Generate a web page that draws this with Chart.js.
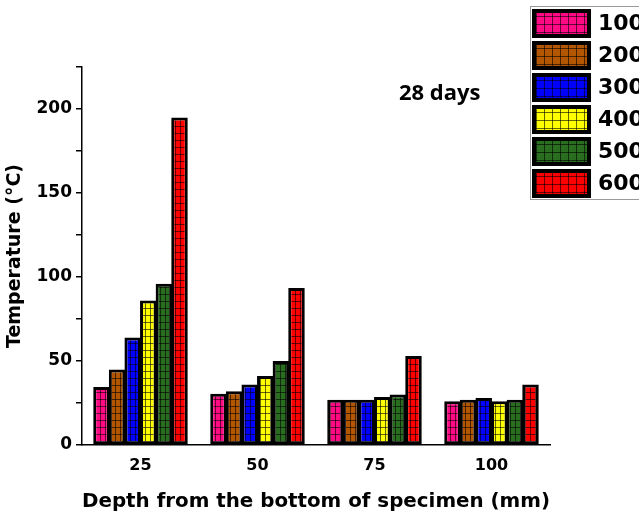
<!DOCTYPE html>
<html>
<head>
<meta charset="utf-8">
<script src="https://cdn.jsdelivr.net/npm/chart.js@4.4.1/dist/chart.umd.min.js"></script>
<style>
    html, body { margin: 0; padding: 0; background: #fff; }
    #wrap { width: 639px; height: 522px; position: relative; }
</style>
</head>
<body>
<div id="wrap"><canvas id="temp-chart"></canvas></div>
<script>
/* ── Data ── */
const depths = ['25', '50', '75', '100'];
const seriesNames = ['100', '200', '300', '400', '500', '600'];
const temp100 = [34.5, 30.5, 27, 26];
const temp200 = [45, 32, 27, 27];
const temp300 = [64, 36, 27, 28];
const temp400 = [86, 41, 28.5, 26];
const temp500 = [96, 50, 30, 27];
const temp600 = [195, 93.5, 53, 36];
const seriesValues = [temp100, temp200, temp300, temp400, temp500, temp600];
const seriesColors = ['#ff0a84', '#b35600', '#0000ff', '#ffff00', '#286e1e', '#ff0000'];

const FONT = '"DejaVu Sans", Verdana, sans-serif';

/* ── Grid-hatched fill pattern ── */
const makePattern = (color, cw, ch) => {
    const c = document.createElement('canvas');
    c.width = cw;
    c.height = ch;
    const g = c.getContext('2d');
    g.fillStyle = color;
    g.fillRect(0, 0, cw, ch);
    g.fillStyle = 'rgba(0,0,0,0.6)';
    g.fillRect(0, 0, cw, 1);
    g.fillRect(0, 0, 1, ch);
    return g.createPattern(c, 'repeat');
};

/* ── Custom legend box + "28 days" note ── */
const legendBox = {
    id: 'legendBox',
    afterDraw(chart) {
        const c = chart.ctx;
        c.save();
        c.strokeStyle = '#9a9a9a';
        c.lineWidth = 1;
        c.strokeRect(530.5, 6.5, 110, 193);
        chart.data.datasets.forEach((ds, i) => {
            const x = 532, y = 9 + 32 * i, w = 59, h = 29;
            c.fillStyle = makePattern(seriesColors[i], 8, 8);
            c.fillRect(x, y, w, h);
            c.strokeStyle = '#000';
            c.lineWidth = 4;
            c.strokeRect(x + 2, y + 2, w - 4, h - 4);
            c.fillStyle = '#000';
            c.font = `bold 22px ${FONT}`;
            c.textBaseline = 'middle';
            c.textAlign = 'left';
            c.fillText(ds.label, 598, y + h / 2 + 1);
        });
        c.font = 'bold 22px "Open Sans", sans-serif';
        c.textAlign = 'left';
        c.textBaseline = 'middle';
        c.fillText('28 days', 399, 94);
        c.restore();
    }
};

const ctx = document.getElementById('temp-chart').getContext('2d');

new Chart(ctx, {
    type: 'bar',
    data: {
        labels: depths,
        datasets: seriesNames.map((name, i) => ({
            label: name,
            data: seriesValues[i],
            backgroundColor: makePattern(seriesColors[i], 5, 7),
            borderColor: '#000',
            borderWidth: 3,
            borderSkipped: false,
            inflateAmount: 0,
            barPercentage: 1.06,
            categoryPercentage: 0.8
        }))
    },
    options: {
        responsive: true,
        maintainAspectRatio: false,
        animation: false,
        layout: { padding: { top: 67, right: 89, bottom: 0, left: 0 } },
        plugins: {
            legend: { display: false },
            tooltip: { enabled: false }
        },
        scales: {
            x: {
                grid: { drawOnChartArea: false, drawTicks: false },
                border: { color: '#000', width: 1.5 },
                ticks: { color: '#000', padding: 11, font: { family: FONT, size: 16, weight: 'bold' } },
                title: {
                    display: true,
                    text: 'Depth from the bottom of specimen (mm)',
                    color: '#000',
                    font: { family: FONT, size: 20, weight: 'bold' },
                    padding: { top: 0, bottom: 8 }
                },
                afterFit: (s) => { s.height = 77; }
            },
            y: {
                min: 0,
                max: 225,
                grid: { drawOnChartArea: false, color: '#000', tickLength: 6, lineWidth: 1.5 },
                border: { color: '#000', width: 1.5 },
                ticks: {
                    stepSize: 25,
                    color: '#000',
                    padding: 4,
                    font: { family: FONT, size: 17, weight: 'bold' },
                    callback: (v) => (v % 50 === 0 ? v : '')
                },
                title: {
                    display: true,
                    text: 'Temperature (°C)',
                    color: '#000',
                    font: { family: FONT, size: 19, weight: 'bold' },
                    padding: { top: 4, bottom: 0 }
                },
                afterFit: (s) => { s.width = 82; }
            }
        }
    },
    plugins: [legendBox]
});
</script>
</body>
</html>
